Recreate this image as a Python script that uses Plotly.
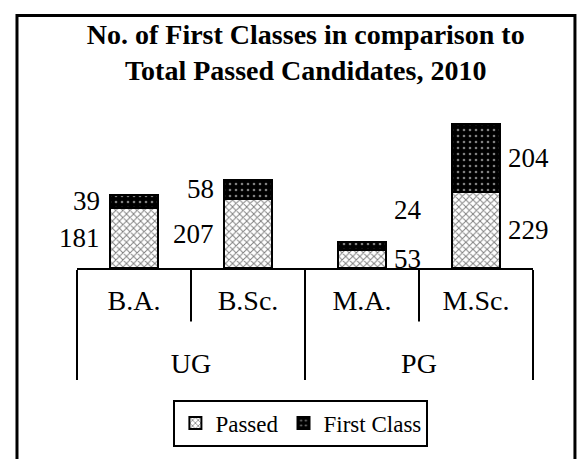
import plotly.graph_objects as go

# data
levels = ["UG", "UG", "PG", "PG"]
programmes = ["B.A.", "B.Sc.", "M.A.", "M.Sc."]
passed = [181, 207, 53, 229]
first_class = [39, 58, 24, 204]

serif = "Liberation Serif"

# trailing blank line pushes the outer level (UG/PG) further down, like the reference
inner = [p + "<br> " for p in programmes]

fig = go.Figure()

fig.add_trace(go.Bar(
    x=[levels, inner],
    y=passed,
    name="Passed",
    width=0.42,
    marker=dict(
        color="white",
        line=dict(color="black", width=2),
        pattern=dict(shape="x", size=5, solidity=0.35, fgcolor="black", bgcolor="white"),
    ),
))

fig.add_trace(go.Bar(
    x=[levels, inner],
    y=first_class,
    name="First Class",
    width=0.42,
    marker=dict(
        color="black",
        line=dict(color="black", width=2),
        pattern=dict(shape=".", size=6, solidity=0.15, fgcolor="white", bgcolor="black"),
    ),
))

# value labels beside the bars (left for UG, right for PG)
for i in range(len(programmes)):
    left = i < 2
    anchor = "right" if left else "left"
    shift = -32 if left else 30
    fig.add_annotation(x=i, y=passed[i] / 2, text=str(passed[i]), showarrow=False,
                       xanchor=anchor, xshift=shift, font=dict(size=27))
    ys = 36 if i == 2 else 0
    fig.add_annotation(x=i, y=passed[i] + first_class[i] / 2, text=str(first_class[i]),
                       showarrow=False, xanchor=anchor, xshift=shift, yshift=ys,
                       font=dict(size=27))

# short separators between programmes inside each level
for b in [0.5, 2.5]:
    fig.add_shape(type="line", xref="x", yref="paper", x0=b, x1=b, y0=0, y1=-55 / 157,
                  line=dict(color="black", width=2))

# outer frame
fig.add_shape(type="rect", xref="paper", yref="paper",
              x0=-0.1316, x1=1.092, y0=-1.3, y1=1.65,
              line=dict(color="black", width=3))

fig.update_layout(
    width=579,
    height=459,
    barmode="stack",
    paper_bgcolor="white",
    plot_bgcolor="white",
    font=dict(family=serif, color="black", size=27),
    title=dict(
        text="<b>No. of First Classes in comparison to<br>Total Passed Candidates, 2010</b>",
        x=0.528, xanchor="center",
        y=1 - 44 / 459, yanchor="top",
        font=dict(size=28),
    ),
    margin=dict(l=77, r=46, t=115, b=187),
    showlegend=True,
    legend=dict(
        orientation="h",
        x=0.491, xanchor="center",
        y=-0.86, yanchor="top",
        bordercolor="black", borderwidth=2,
        font=dict(size=23),
        traceorder="normal",
        itemwidth=30,
    ),
    xaxis=dict(
        type="multicategory",
        range=[-0.5, 3.5],
        showline=True, linecolor="black", linewidth=2,
        ticks="", showgrid=False,
        ticklabelstandoff=6,
        showdividers=True, dividercolor="black", dividerwidth=2,
        tickfont=dict(size=28),
    ),
    yaxis=dict(visible=False, range=[0, 459]),
)

fig.write_html("out.html", config={"displayModeBar": False},
               post_script="document.body.style.margin='0';")
